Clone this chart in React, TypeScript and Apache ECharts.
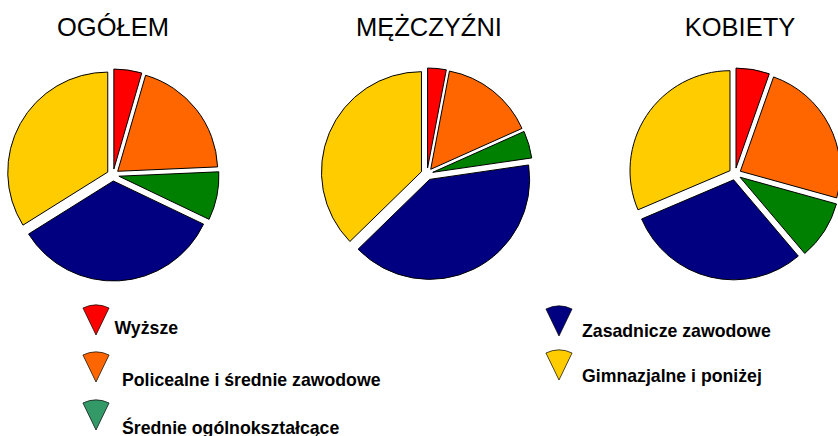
import React, { useEffect, useRef } from "react";
import * as echarts from "echarts";

const categories = [
  "Wyższe",
  "Policealne i średnie zawodowe",
  "Średnie ogólnokształcące",
  "Zasadnicze zawodowe",
  "Gimnazjalne i poniżej",
];
const titles = ["OGÓŁEM", "MĘŻCZYŹNI", "KOBIETY"];
const ogolem = [4.5, 19.8, 7.8, 34.0, 33.9];
const mezczyzni = [3.0, 15.3, 4.4, 40.0, 37.3];
const kobiety = [5.4, 23.9, 9.5, 29.8, 31.4];
const sliceColors = ["#FF0000", "#FF6600", "#008000", "#000080", "#FFCC00"];
const legendColors = ["#FF0000", "#FF6600", "#339966", "#000080", "#FFCC00"];

const FONT = "'Liberation Sans', Arial, sans-serif";

export default function App() {
  const ref = useRef<HTMLDivElement>(null);
  useEffect(() => {
    document.body.style.margin = "0";
    if (!ref.current) return;
    const chart = echarts.init(ref.current, undefined, { renderer: "svg" });
    const seriesData = [ogolem, mezczyzni, kobiety];
    const centers = [
      [113, 175],
      [427, 174],
      [735, 174],
    ];
    const titleX = [113, 429, 740];

    // legend placements: [iconApexX, iconApexY, textX, textY]
    const legendPos = [
      [96, 335, 114.5, 328],
      [96, 382, 122, 380],
      [96, 430, 122, 427.5],
      [559, 336, 582, 331],
      [559, 380, 582, 375.5],
    ];
    const legendGraphics: any[] = [];
    categories.forEach((name, i) => {
      const [ax, ay, tx, ty] = legendPos[i];
      legendGraphics.push({
        type: "sector",
        shape: {
          cx: ax,
          cy: ay,
          r: 30,
          r0: 0,
          startAngle: -Math.PI / 2 - 0.45,
          endAngle: -Math.PI / 2 + 0.45,
          clockwise: true,
        },
        style: { fill: legendColors[i], stroke: "#000", lineWidth: 0.7 },
        silent: true,
      });
      legendGraphics.push({
        type: "text",
        x: tx,
        y: ty,
        style: {
          text: name,
          fill: "#000",
          font: `bold 17.7px ${FONT}`,
          textVerticalAlign: "middle",
          textAlign: "left",
        },
        silent: true,
      });
    });
    titles.forEach((t, i) => {
      legendGraphics.push({
        type: "text",
        x: titleX[i],
        y: 26.5,
        style: {
          text: t,
          fill: "#000",
          font: `25.5px ${FONT}`,
          textVerticalAlign: "middle",
          textAlign: "center",
        },
        silent: true,
      });
    });

    chart.setOption({
      animation: false,
      backgroundColor: "#fff",
      graphic: legendGraphics,
      series: seriesData.map((vals, si) => ({
        type: "pie",
        name: titles[si],
        center: centers[si],
        radius: 100,
        startAngle: 90,
        clockwise: true,
        selectedMode: "multiple",
        selectedOffset: 6,
        label: { show: false },
        labelLine: { show: false },
        emphasis: { disabled: true },
        silent: true,
        itemStyle: { borderColor: "#000", borderWidth: 1 },
        data: vals.map((v, i) => ({
          name: categories[i],
          value: v,
          selected: true,
          itemStyle: { color: sliceColors[i] },
        })),
      })),
    });
    return () => chart.dispose();
  }, []);
  return <div ref={ref} style={{ width: 838, height: 436 }} />;
}
